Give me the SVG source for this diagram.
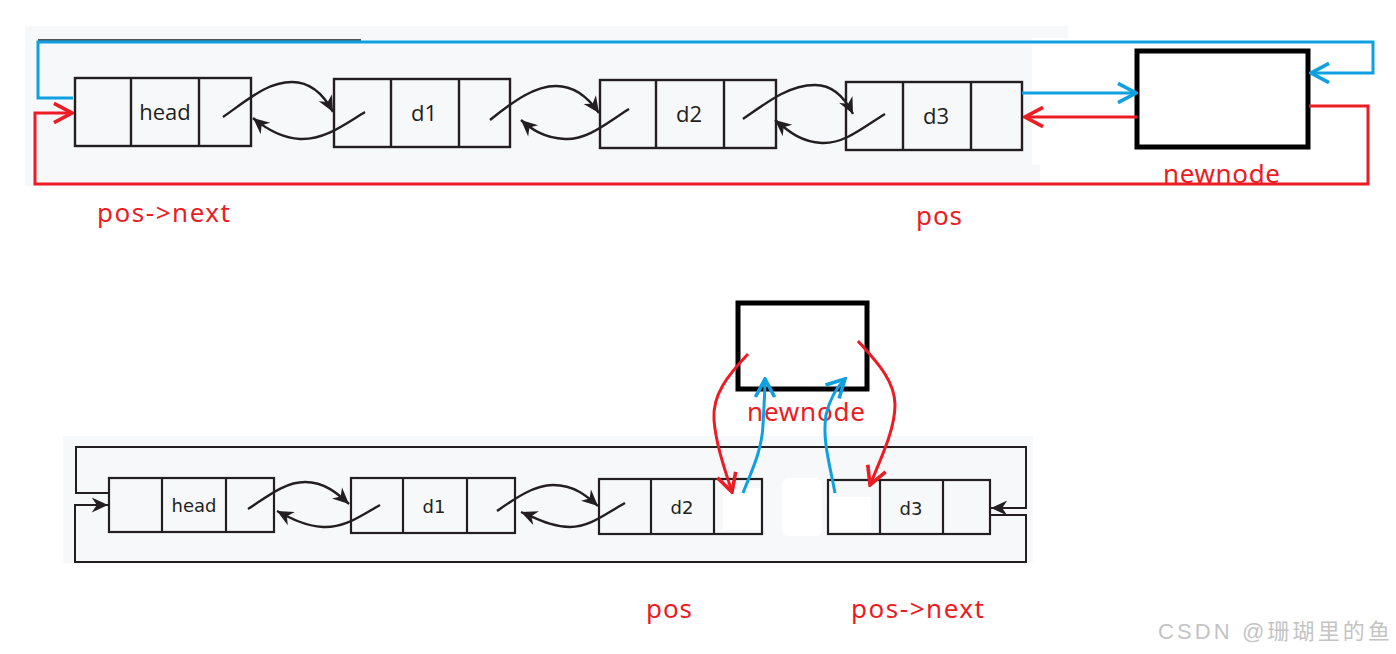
<svg xmlns="http://www.w3.org/2000/svg" width="1396" height="654" viewBox="0 0 1396 654">
<style>
.panel{fill:#f7f8fa}
.cell{fill:none;stroke:#231f20;stroke-width:2.4}
.cellb{fill:none;stroke:#231f20;stroke-width:2.2}
.nt{font-family:"Open Sans","Noto Sans",sans-serif;font-size:22px;fill:#231f20;text-anchor:middle}
.ntb{font-family:"DejaVu Sans","Noto Sans",sans-serif;font-size:18px;fill:#231f20;text-anchor:middle}
.curve{fill:none;stroke:#231f20;stroke-width:2.4;marker-end:url(#blk)}
.loop{fill:none;stroke:#231f20;stroke-width:2}
.blue{fill:none;stroke:#0ea0e0;stroke-width:3}
.red{fill:none;stroke:#ed1c24;stroke-width:3}
.lbl{font-family:"Noto Sans","Open Sans",sans-serif;font-size:26px;fill:#ed1c24}
.nn{fill:#ffffff;stroke:#000000;stroke-width:5}
</style>
<defs>
<marker id="blk" markerUnits="userSpaceOnUse" markerWidth="20" markerHeight="20" refX="0" refY="0" viewBox="-14 -8 16 16" orient="auto">
<path d="M-13,-6 L0,0 L-13,6 L-9,0 Z" fill="#231f20"/>
</marker>
<marker id="bv" markerUnits="userSpaceOnUse" markerWidth="24" markerHeight="24" refX="0" refY="0" viewBox="-18 -10 20 20" orient="auto">
<path d="M-15,-8 L0,0 L-15,8" fill="none" stroke="#0ea0e0" stroke-width="3"/>
</marker>
<marker id="rv" markerUnits="userSpaceOnUse" markerWidth="24" markerHeight="24" refX="0" refY="0" viewBox="-18 -10 20 20" orient="auto">
<path d="M-15,-8 L0,0 L-15,8" fill="none" stroke="#ed1c24" stroke-width="3"/>
</marker>
</defs>
<rect width="1396" height="654" fill="#ffffff"/>

<!-- top panel -->
<path class="panel" d="M25,26 H1068 V38 H1032 V165 H1040 V186 H25 Z"/>
<!-- bottom panel -->
<rect class="panel" x="63" y="436" width="970" height="127"/>

<!-- top nodes -->
<g id="top-head">
<rect class="cell" x="75" y="78" width="176" height="68"/>
<line class="cell" x1="131" y1="78" x2="131" y2="146"/>
<line class="cell" x1="199" y1="78" x2="199" y2="146"/>
<text class="nt" x="165" y="120">head</text>
</g>
<g id="top-d1">
<rect class="cell" x="334" y="79" width="176" height="68"/>
<line class="cell" x1="391" y1="79" x2="391" y2="147"/>
<line class="cell" x1="459" y1="79" x2="459" y2="147"/>
<text class="nt" x="424" y="121">d1</text>
</g>
<g id="top-d2">
<rect class="cell" x="600" y="80" width="176" height="68"/>
<line class="cell" x1="656" y1="80" x2="656" y2="148"/>
<line class="cell" x1="724" y1="80" x2="724" y2="148"/>
<text class="nt" x="689" y="122">d2</text>
</g>
<g id="top-d3">
<rect class="cell" x="846" y="82" width="176" height="68"/>
<line class="cell" x1="903" y1="82" x2="903" y2="150"/>
<line class="cell" x1="971" y1="82" x2="971" y2="150"/>
<text class="nt" x="936" y="124">d3</text>
</g>
<g id="top-newnode">
<rect class="nn" x="1137" y="51" width="171" height="96"/>
<text class="lbl" x="1163" y="183" textLength="117">newnode</text>
</g>

<!-- bottom nodes -->
<g id="bot-head">
<rect class="cellb" x="109" y="478" width="165" height="54"/>
<line class="cellb" x1="162" y1="478" x2="162" y2="532"/>
<line class="cellb" x1="226" y1="478" x2="226" y2="532"/>
<text class="ntb" x="194" y="512">head</text>
</g>
<g id="bot-d1">
<rect class="cellb" x="351" y="478" width="164" height="55"/>
<line class="cellb" x1="403" y1="478" x2="403" y2="533"/>
<line class="cellb" x1="467" y1="478" x2="467" y2="533"/>
<text class="ntb" x="434" y="513">d1</text>
</g>
<g id="bot-d2">
<rect class="cellb" x="599" y="479" width="163" height="55"/>
<line class="cellb" x1="651" y1="479" x2="651" y2="534"/>
<line class="cellb" x1="714" y1="479" x2="714" y2="534"/>
<text class="ntb" x="682" y="514">d2</text>
</g>
<g id="bot-d3">
<rect class="cellb" x="828" y="480" width="162" height="54"/>
<line class="cellb" x1="880" y1="480" x2="880" y2="534"/>
<line class="cellb" x1="943" y1="480" x2="943" y2="534"/>
<text class="ntb" x="911" y="515">d3</text>
</g>
<g id="bot-newnode">
<rect class="nn" x="738" y="303" width="129" height="86"/>
<text class="lbl" x="747" y="421" textLength="118">newnode</text>
</g>

<!-- erased patches -->
<g id="erased">
<rect x="723" y="488" width="37" height="42" fill="#ffffff"/>
<rect x="782" y="478" width="40" height="58" rx="6" fill="#ffffff"/>
<rect x="831" y="497" width="40" height="35" fill="#ffffff"/>
</g>

<g id="connectors">
<!-- top black curves -->
<path class="curve" d="M223,117 C250,98 268,82 292,82 C312,82 325,97 333,112"/>
<path class="curve" d="M365,112 C345,124 325,140 300,139 C280,138 265,128 253,118"/>
<path class="curve" d="M490,120 C515,100 535,86 556,86 C577,86 590,100 599,113"/>
<path class="curve" d="M629,109 C608,122 588,140 565,139 C543,138 530,128 521,120"/>
<path class="curve" d="M743,119 C770,100 790,85 815,85 C835,85 846,100 853,114"/>
<path class="curve" d="M885,114 C865,126 845,144 822,143 C800,142 787,130 775,120"/>
<!-- top remnant black line -->
<line x1="38" y1="40" x2="361" y2="40" stroke="#231f20" stroke-width="1.5"/>
<!-- top blue -->
<path class="blue" d="M73,98 H38 V42 H1373 V73 H1311" marker-end="url(#bv)"/>
<path class="blue" d="M1022,93 H1136" marker-end="url(#bv)"/>
<!-- top red -->
<path class="red" d="M1137,117 H1025" marker-end="url(#rv)"/>
<path class="red" d="M1309,106 H1368 V184 H35 V113 H72" marker-end="url(#rv)"/>

<!-- bottom black curves -->
<path class="curve" d="M248,509 C268,496 285,482 305,482 C325,482 338,494 349,504"/>
<path class="curve" d="M380,505 C360,516 345,528 323,527 C305,526 290,518 277,511"/>
<path class="curve" d="M497,511 C517,497 535,485 553,485 C575,485 588,497 598,506"/>
<path class="curve" d="M625,503 C605,514 590,527 570,527 C552,527 538,519 521,512"/>
<!-- bottom loop -->
<path class="loop" d="M109,493 H76 V447 H1026 V508 H991" marker-end="url(#blk)"/>
<path class="loop" d="M990,515 H1026 V562 H75 V505 H108" marker-end="url(#blk)"/>
<!-- bottom red/blue -->
<path class="red" d="M748,354 C728,375 712,395 714,420 C716,445 725,470 732,492" marker-end="url(#rv)"/>
<path class="red" d="M858,341 C875,360 895,380 895,405 C895,430 880,460 870,485" marker-end="url(#rv)"/>
<path class="blue" d="M743,493 C752,470 762,450 763,425 C764,405 765,392 765,379" marker-end="url(#bv)"/>
<path class="blue" d="M835,493 C830,465 822,440 826,415 C830,398 838,386 845,379" marker-end="url(#bv)"/>
</g>

<!-- labels -->
<text class="lbl" x="97" y="222" textLength="133">pos-&gt;next</text>
<text class="lbl" x="916" y="225" textLength="46">pos</text>
<text class="lbl" x="646" y="618" textLength="46">pos</text>
<text class="lbl" x="851" y="618" textLength="133">pos-&gt;next</text>
<text x="1158" y="639" font-family="'Liberation Sans','Noto Sans CJK SC',sans-serif" font-size="22" fill="#c4c4c4" textLength="232">CSDN @珊瑚里的鱼</text>
</svg>
